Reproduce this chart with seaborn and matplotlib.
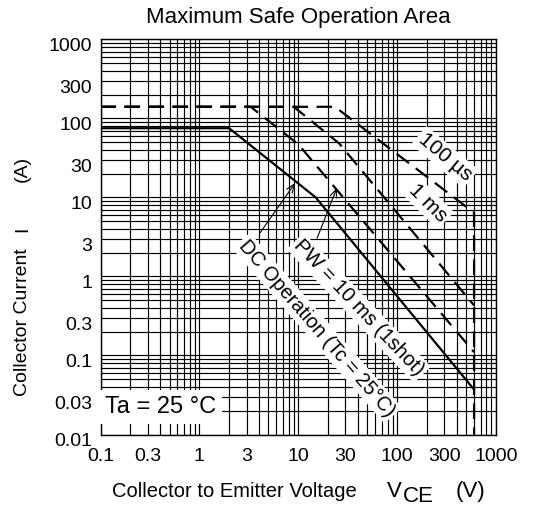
import numpy as np
import pandas as pd
import seaborn as sns
import matplotlib
matplotlib.use("Agg")
import matplotlib.pyplot as plt
from matplotlib.ticker import LogLocator, FixedLocator, FixedFormatter, NullFormatter
from matplotlib.transforms import ScaledTranslation

# Safe operating area boundaries (V_CE in volts, I_C in amperes)
dc_v = [0.1, 2, 15, 600]
dc_i = [75, 75, 10, 0.037]
pw10ms_v = [0.1, 3.3, 10, 600]
pw10ms_i = [140, 140, 47, 0.11]
pw1ms_v = [0.1, 9, 26, 600]
pw1ms_i = [140, 140, 48, 0.43]
pw100us_v = [0.1, 23.5, 600, 600]
pw100us_i = [140, 140, 6.4, 0.01]

x_ticks = [0.1, 0.3, 1, 3, 10, 30, 100, 300, 1000]
x_tick_labels = ["0.1", "0.3", "1", "3", "10", "30", "100", "300", "1000"]
y_ticks = [0.01, 0.03, 0.1, 0.3, 1, 3, 10, 30, 100, 300, 1000]
y_tick_labels = ["0.01", "0.03", "0.1", "0.3", "1", "3", "10", "30", "100", "300", "1000"]

sns.set_theme(style="white")
plt.rcParams["font.family"] = ["Liberation Sans", "DejaVu Sans"]
plt.rcParams["text.color"] = "black"

W, H = 535, 507
fig = plt.figure(figsize=(W / 100, H / 100), dpi=100)
ax = fig.add_axes([100.5 / W, 1 - 434.5 / H, 395.5 / W, 395.2 / H])
ax.set_xscale("log")
ax.set_yscale("log")
ax.set_xlim(0.1, 1000)
ax.set_ylim(0.01, 1000)

# dense log grid
for axis in (ax.xaxis, ax.yaxis):
    axis.set_minor_locator(LogLocator(base=10, subs=np.arange(2, 10), numticks=30))
    axis.set_minor_formatter(NullFormatter())
ax.xaxis.set_major_locator(FixedLocator(x_ticks))
ax.xaxis.set_major_formatter(FixedFormatter(x_tick_labels))
ax.yaxis.set_major_locator(FixedLocator(y_ticks))
ax.yaxis.set_major_formatter(FixedFormatter(y_tick_labels))
ax.grid(which="both", axis="both", color="black", lw=0.85)
ax.set_axisbelow(True)
ax.tick_params(which="both", length=0, labelsize=14, colors="black")
ax.tick_params(axis="x", pad=9.5)
ax.tick_params(axis="y", pad=6)
for lab in ax.get_yticklabels():
    lab.set_transform(lab.get_transform() + ScaledTranslation(0, -0.055, fig.dpi_scale_trans))
for s in ax.spines.values():
    s.set_color("black")
    s.set_linewidth(1.0)

LW = 1.6
DASH = (7.0, 3.8)


def boundary(v, i, dashed):
    sns.lineplot(x=v, y=i, ax=ax, color="black", lw=LW, estimator=None, sort=False,
                 legend=False, zorder=3)
    line = ax.lines[-1]
    if dashed:
        line.set_dashes(DASH)
    line.set_solid_joinstyle("miter")


boundary(pw100us_v, pw100us_i, True)
boundary(pw1ms_v, pw1ms_i, True)
boundary(pw10ms_v, pw10ms_i, True)
boundary(dc_v, dc_i, False)

box = dict(boxstyle="square,pad=0.12", fc="white", ec="none")
lab_kw = dict(ha="center", va="center", rotation_mode="anchor", bbox=box, zorder=6)
ax.text(304, 32.4, "100 µs", rotation=-40, fontsize=15, **lab_kw)
ax.text(205, 8.5, "1 ms", rotation=-45, fontsize=15, **lab_kw)
ax.text(41, 0.40, "PW = 10 ms (1shot)", rotation=-46.5, fontsize=14.6, **lab_kw)
ax.text(15.5, 0.222, "DC Operation (Tc = 25°C)", rotation=-49, fontsize=14.3, **lab_kw)

arrow = dict(arrowstyle="->,head_length=0.5,head_width=0.2", lw=0.8, color="black",
             shrinkA=0, shrinkB=0)
ax.annotate("", xy=(9.3, 15.2), xytext=(4.1, 3.55), arrowprops=arrow, zorder=5)
ax.annotate("", xy=(24.6, 13.2), xytext=(15.5, 3.04), arrowprops=arrow, zorder=5)

ax.text(0.0114, 0.0696, "Ta = 25 °C", transform=ax.transAxes, fontsize=17,
        ha="left", va="center",
        bbox=dict(boxstyle="square,pad=0.25", fc="white", ec="none"), zorder=6)

ax.set_title("Maximum Safe Operation Area", fontsize=16, pad=12, color="black")

# axis titles
fig.text(22.5 / W, 1 - 322 / H, "Collector Current", rotation=90, fontsize=14,
         ha="center", va="center")
fig.text(22.5 / W, 1 - 229 / H, "I", rotation=90, fontsize=14, ha="center", va="center")
fig.text(22.5 / W, 1 - 169 / H, "(A)", rotation=90, fontsize=14, ha="center", va="center")

fig.text(112 / W, 1 - 496.7 / H, "Collector to Emitter Voltage", fontsize=14.5,
         ha="left", va="baseline")
fig.text(387 / W, 1 - 496.7 / H, "V", fontsize=16, ha="left", va="baseline")
fig.text(403 / W, 1 - 501.5 / H, "CE", fontsize=16, ha="left", va="baseline")
fig.text(456 / W, 1 - 496.7 / H, "(V)", fontsize=16, ha="left", va="baseline")

fig.savefig("out.png", dpi=100, facecolor="white")
